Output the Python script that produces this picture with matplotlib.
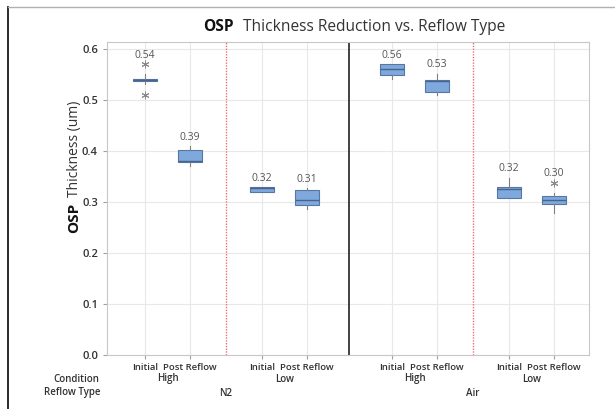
import matplotlib
matplotlib.use("Agg")
import matplotlib.pyplot as plt
from matplotlib.lines import Line2D
from matplotlib.transforms import blended_transform_factory

plt.rcParams['font.family'] = ['Open Sans', 'DejaVu Sans']

reflow_types = ['N2', 'Air']
conditions = ['High', 'Low']
stages = ['Initial', 'Post Reflow']

# box summaries, order: N2-High, N2-Low, Air-High, Air-Low (Initial, Post Reflow each)
q1 = [0.538, 0.378, 0.319, 0.295, 0.549, 0.516, 0.308, 0.296]
med = [0.540, 0.380, 0.327, 0.303, 0.560, 0.538, 0.325, 0.303]
q3 = [0.542, 0.401, 0.329, 0.323, 0.570, 0.540, 0.329, 0.312]
whislo = [0.532, 0.370, 0.319, 0.286, 0.541, 0.510, 0.308, 0.279]
whishi = [0.551, 0.409, 0.329, 0.327, 0.570, 0.551, 0.348, 0.317]
outliers = [[0.57, 0.51], [], [], [], [], [], [], [0.338]]
means = [0.54, 0.39, 0.32, 0.31, 0.56, 0.53, 0.32, 0.30]

W, H = 615, 409
fig = plt.figure(figsize=(W / 100, H / 100), dpi=100)
ax = fig.add_axes([107 / W, 1 - 355 / H, (589 - 107) / W, (355 - 42) / H])

# x positions: pairs 1 apart, wider gaps between conditions and reflow types
pos = []
x = 0.0
for r in range(len(reflow_types)):
    for c in range(len(conditions)):
        for s in range(len(stages)):
            pos.append(x)
            x += 1
        x += 0.6 if c == 0 else 0.89
pair_mid = [(pos[2 * i] + pos[2 * i + 1]) / 2 for i in range(4)]
type_mid = [(pos[4 * i] + pos[4 * i + 3]) / 2 for i in range(2)]

stats = []
for i in range(len(med)):
    stats.append(dict(q1=q1[i], med=med[i], q3=q3[i], whislo=whislo[i],
                      whishi=whishi[i], fliers=outliers[i], mean=means[i]))

ax.bxp(stats, positions=pos, widths=0.53, patch_artist=True, showcaps=False,
       boxprops=dict(facecolor='#7fa8dc', edgecolor='#5676a3', linewidth=0.8),
       medianprops=dict(color='#46648f', linewidth=1.0),
       whiskerprops=dict(color='#808080', linewidth=0.8),
       flierprops=dict(marker=(6, 2, 0), markersize=5.5, markeredgecolor='#8a8a8a',
                       markerfacecolor='none', markeredgewidth=0.7))

# mean labels above each box
for i, m in enumerate(means):
    top = max([q3[i], whishi[i]] + outliers[i])
    ax.annotate(f'{m:.2f}', (pos[i], top), xytext=(0, 6.5), textcoords='offset points',
                ha='center', va='center', fontsize=7.5, color='#555555')

# separators between groups
ax.axvline((pos[1] + pos[2]) / 2, color='#f07070', lw=1, ls=(0, (1, 1)))
ax.axvline((pos[5] + pos[6]) / 2, color='#f07070', lw=1, ls=(0, (1, 1)))
ax.axvline((pos[3] + pos[4]) / 2, color='#222222', lw=1.2)

ax.set_xlim(pos[0] - 0.844, pos[-1] + 0.78)
ax.set_ylim(0, 0.6137)
ax.set_yticks([0.0, 0.1, 0.2, 0.3, 0.4, 0.5, 0.6])
ax.set_yticklabels([f'{v:.1f}' for v in ax.get_yticks()])
ax.set_xticks(pos)
ax.set_xticklabels(stages * 4)
ax.tick_params(axis='both', labelcolor='#333333', color='#a0a0a0', length=3, width=0.8)
ax.tick_params(axis='y', labelsize=8)
ax.tick_params(axis='x', labelsize=6.8, pad=2.5)
for lab in ax.get_xticklabels() + ax.get_yticklabels():
    lab.set_fontweight('semibold')

ax.grid(True, color='#e8e8e8', lw=0.8)
ax.set_axisbelow(True)
for sp in ax.spines.values():
    sp.set_color('#c8c8c8')
    sp.set_linewidth(0.8)

# grouping rows under the axis
tr = blended_transform_factory(ax.transData, fig.transFigure)
for i, xm in enumerate(pair_mid):
    ax.text(xm, 1 - 379 / H, conditions[i % 2], transform=tr, ha='center', va='center',
            fontsize=7, color='#333333', fontweight='semibold')
for i, xm in enumerate(type_mid):
    ax.text(xm, 1 - 393 / H, reflow_types[i], transform=tr, ha='center', va='center',
            fontsize=7, color='#333333', fontweight='semibold')
fig.text(99 / W, 1 - 379 / H, 'Condition', ha='right', va='center', fontsize=7,
         color='#333333', fontweight='semibold')
fig.text(100 / W, 1 - 393 / H, 'Reflow Type', ha='right', va='center', fontsize=7,
         color='#333333', fontweight='semibold')

# title and y label, bold prefix + regular text
fig.text(203 / W, 1 - 31 / H, 'OSP', fontsize=11.2, fontweight='bold', color='#111111', va='baseline')
fig.text(243 / W, 1 - 31 / H, 'Thickness Reduction vs. Reflow Type', fontsize=11.2,
         color='#333333', va='baseline')
fig.text(78 / W, 1 - 233 / H, 'OSP', fontsize=11, fontweight='bold', color='#111111',
         rotation=90, rotation_mode='anchor', ha='left', va='baseline')
fig.text(78 / W, 1 - 197 / H, 'Thickness (um)', fontsize=10, color='#333333',
         rotation=90, rotation_mode='anchor', ha='left', va='baseline')

# outer frame edges
fig.add_artist(Line2D([8 / W, 8 / W], [0, 1 - 7 / H], transform=fig.transFigure,
                      color='#1a1a1a', lw=1.3))
fig.add_artist(Line2D([8 / W, 1], [1 - 7 / H, 1 - 7 / H], transform=fig.transFigure,
                      color='#b0b0b0', lw=1))

fig.savefig('out.png', dpi=100)
